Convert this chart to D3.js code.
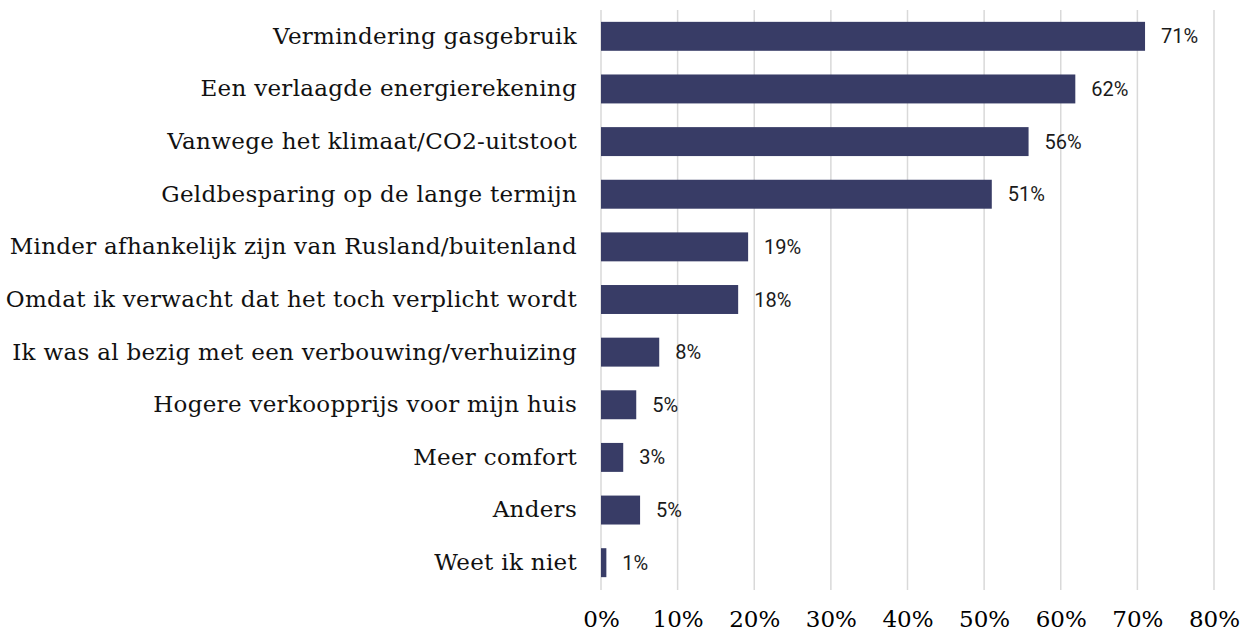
<!DOCTYPE html>
<html>
<head>
<meta charset="utf-8">
<script src="https://cdn.jsdelivr.net/npm/d3@7"></script>
<style>
  body { margin: 0; background: #fff; }
</style>
</head>
<body>
<div id="chart"></div>
<script>
var categories = [
  "Vermindering gasgebruik",
  "Een verlaagde energierekening",
  "Vanwege het klimaat/CO2-uitstoot",
  "Geldbesparing op de lange termijn",
  "Minder afhankelijk zijn van Rusland/buitenland",
  "Omdat ik verwacht dat het toch verplicht wordt",
  "Ik was al bezig met een verbouwing/verhuizing",
  "Hogere verkoopprijs voor mijn huis",
  "Meer comfort",
  "Anders",
  "Weet ik niet"
];
var values = [0.710, 0.619, 0.558, 0.510, 0.192, 0.179, 0.076, 0.046, 0.029, 0.051, 0.007];
var ticks = [0, 0.1, 0.2, 0.3, 0.4, 0.5, 0.6, 0.7, 0.8];

var width = 1243, height = 632;
var plotLeft = 601, plotRight = 1214, plotTop = 10, plotBottom = 589;

var svg = d3.select("#chart").append("svg")
    .attr("width", width)
    .attr("height", height);

var x = d3.scaleLinear().domain([0, 0.8]).range([plotLeft, plotRight]);
var y = d3.scaleBand().domain(categories).range([plotTop, plotBottom]).paddingInner(0.45).paddingOuter(0.225);

// gridlines
svg.append("g").selectAll("line").data(ticks)
  .enter().append("line")
    .attr("x1", function(d){ return x(d); })
    .attr("x2", function(d){ return x(d); })
    .attr("y1", 10)
    .attr("y2", 590)
    .style("stroke", "#d9d9d9")
    .style("stroke-width", 1.5);

// x axis labels
var xAxis = d3.axisBottom(x).tickValues(ticks).tickFormat(d3.format(".0%")).tickSize(0).tickPadding(0);
var gx = svg.append("g")
    .attr("transform", "translate(0,611)")
    .call(xAxis);
gx.select(".domain").remove();
gx.selectAll("text")
    .style("font-family", "'DejaVu Serif', serif")
    .style("font-size", "23px")
    .style("fill", "#000");

// category labels
var yAxis = d3.axisLeft(y).tickSize(0).tickPadding(0);
var gy = svg.append("g")
    .attr("transform", "translate(577,0)")
    .call(yAxis);
gy.select(".domain").remove();
gy.selectAll("text")
    .style("font-family", "'DejaVu Serif', serif")
    .style("font-size", "23px")
    .style("letter-spacing", "0.3px")
    .style("fill", "#111");

// bars
svg.append("g").selectAll("rect").data(values)
  .enter().append("rect")
    .attr("x", x(0))
    .attr("y", function(d, i){ return y(categories[i]); })
    .attr("width", function(d){ return x(d) - x(0); })
    .attr("height", y.bandwidth())
    .style("fill", "#383c66");

// value labels
svg.append("g").selectAll("text").data(values)
  .enter().append("text")
    .attr("x", function(d){ return x(d) + 16; })
    .attr("y", function(d, i){ return y(categories[i]) + y.bandwidth() / 2; })
    .attr("dy", "0.35em")
    .style("font-family", "Roboto, sans-serif")
    .style("font-size", "20px")
    .style("fill", "#1a1a1a")
    .text(function(d){ return d3.format(".0%")(d); });
</script>
</body>
</html>
